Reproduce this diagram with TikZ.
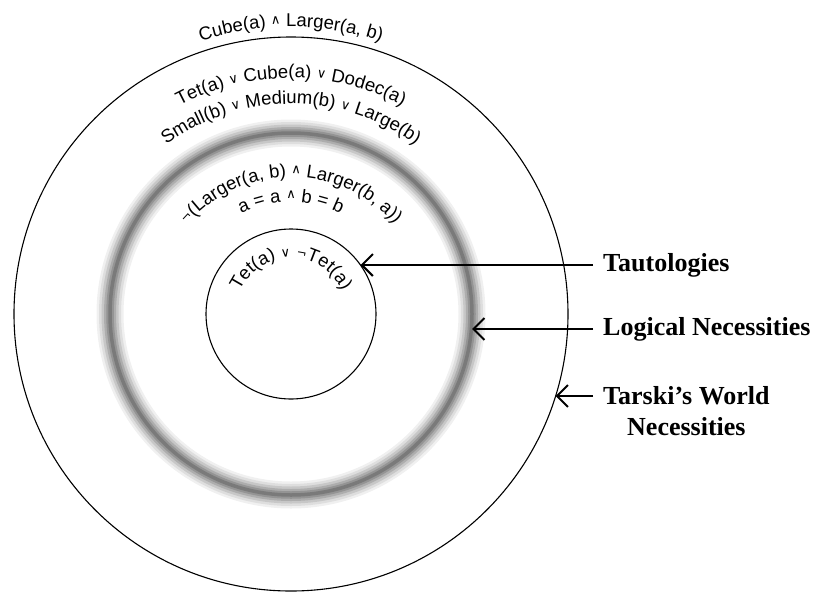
\documentclass[tikz,border=0pt]{standalone}
\usepackage{fontspec}
\usetikzlibrary{positioning, arrows.meta, calc, decorations.text}

\newfontfamily\sansfam{Liberation Sans}
\newfontfamily\seriffam{Liberation Serif}
\newfontfamily\symfam{DejaVu Sans}

\newcommand\arclbl{\sansfam\fontsize{18.5}{22}\selectfont}
\newcommand\andsym{\raisebox{3pt}{\symfam\fontsize{13}{14}\selectfont ∧}}
\newcommand\orsym{\raisebox{1.5pt}{\symfam\fontsize{13}{14}\selectfont ∨}}
\newcommand\negsym{\raisebox{2pt}{\symfam\fontsize{12}{14}\selectfont ¬}}

\tikzset{
  ringline/.style={line width=1.1pt},
  tagtext/.style={font=\seriffam\bfseries\fontsize{26}{30}\selectfont,
    inner xsep=10pt, inner ysep=0pt},
  pointer/.style={line width=2pt, -{Straight Barb[length=11pt,width=22pt]}},
  curvetext/.style={decorate, decoration={text along path, text align=center,
    text={|\arclbl|#1}}}
}

\begin{document}
\begin{tikzpicture}[x=1pt, y=1pt]
\useasboundingbox (0,0) rectangle (824,-592);

\coordinate (centre) at (291,-314);

% Logical necessities (blurred ring)
\foreach \w/\shade in {27/6, 22/13, 17/22, 12/32, 7.5/42, 3.5/52}
  \draw[line width=\w pt, black!\shade] (centre) circle[radius=181];

% Tarski's world and tautologies
\draw[ringline] (centre) circle[radius=277];
\draw[ringline] (centre) circle[radius=85];

% Sentences on arcs
\path[curvetext={Cube(a) {\andsym} Larger(a, b)}]
  ([shift={(170:287)}]centre) arc[start angle=170, end angle=10, radius=287];
\path[curvetext={Tet(a) {\orsym} Cube(a) {\orsym} Dodec(a)}]
  ([shift={(170:236)}]centre) arc[start angle=170, end angle=10, radius=236];
\path[curvetext={Small(b) {\orsym} Medium(b) {\orsym} Large(b)}]
  ([shift={(170:210)}]centre) arc[start angle=170, end angle=10, radius=210];
\path[curvetext={{\negsym}(Larger(a, b) {\andsym} Larger(b, a))}]
  ([shift={(170:137)}]centre) arc[start angle=170, end angle=10, radius=137];
\path[curvetext={a = a {\andsym} b = b}]
  ([shift={(170:112)}]centre) arc[start angle=170, end angle=10, radius=112];
\path[curvetext={Tet(a) {\orsym} {\negsym}Tet(a)}]
  ([shift={(175:56)}]centre) arc[start angle=175, end angle=5, radius=56];

% Labels
\coordinate (tautotip) at (360.5,-265);
\coordinate (logictip) at (472,-329);
\coordinate (tarskitip) at (555.5,-396);

\node[tagtext, anchor=west] (tauto) at (593,-265) {Tautologies};
\node[tagtext, anchor=west] (logic) at (593,-329) {Logical Necessities};
\node[tagtext, anchor=west] (tarski) at (593,-396) {Tarski’s World};
\node[tagtext, below=12pt of tarski] (tarskinec) {Necessities};

\draw[pointer] (tauto.west) -- (tautotip);
\draw[pointer] (logic.west) -- (logictip);
\draw[pointer] (tarski.west) -- (tarskitip);

\end{tikzpicture}
\end{document}
